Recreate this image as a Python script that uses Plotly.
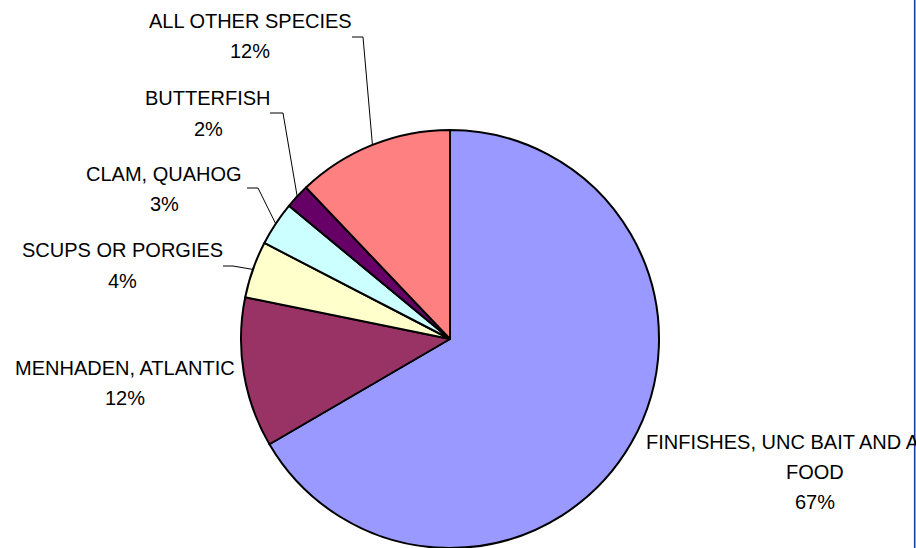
import math
import plotly.graph_objects as go

# ---- data ----
species = ["FINFISHES, UNC BAIT AND ANIMAL FOOD", "MENHADEN, ATLANTIC", "SCUPS OR PORGIES",
           "CLAM, QUAHOG", "BUTTERFISH", "ALL OTHER SPECIES"]
shares = [66.6, 11.6, 4.4, 3.4, 1.9, 12.1]
colors = ["#9999FF", "#993366", "#FFFFCC", "#CCFFFF", "#660066", "#FF8080"]

W, H = 916, 548
FONT = "Liberation Sans, Arial, sans-serif"
FS = 20

# pie geometry (pixels)
CX, CY, R = 450, 339, 209

fig = go.Figure(go.Pie(
    labels=species, values=shares, sort=False, direction="clockwise", rotation=0,
    marker=dict(colors=colors, line=dict(color="black", width=2)),
    textinfo="none", showlegend=False, hoverinfo="label+percent",
    domain=dict(x=[(CX - R) / W, (CX + R) / W], y=[(H - CY - R) / H, (H - CY + R) / H]),
))

total = sum(shares)
pcts = [f"{round(v / total * 100)}%" for v in shares]

def px(x, y):
    return x / W, 1 - y / H

# label layout: (name center x, name y, pct y, elbow x, elbow y, end x) in pixels
layout_pos = {
    "ALL OTHER SPECIES": (250, 21.5, 51.5, 363, 37, 352),
    "BUTTERFISH": (208, 97.5, 128.5, 283, 113, 270),
    "CLAM, QUAHOG": (164, 174, 204.5, 258, 188, 247),
    "SCUPS OR PORGIES": (122, 250, 280.5, 233, 266, 223),
    "MENHADEN, ATLANTIC": (125, 367.5, 397.5, None, None, None),
}

annotations = []
shapes = []
cum = 0.0
for name, v, pct in zip(species, shares, pcts):
    mid = (cum + v / 2) / total * 2 * math.pi
    cum += v
    ex = CX + R * math.sin(mid)
    ey = CY - R * math.cos(mid)
    if name in layout_pos:
        nx, ny, py, elx, ely, endx = layout_pos[name]
        for txt, yy in ((name, ny), (pct, py)):
            x0, y0 = px(nx, yy)
            annotations.append(dict(x=x0, y=y0, xref="paper", yref="paper", text=txt,
                                    showarrow=False, xanchor="center", yanchor="middle",
                                    font=dict(family=FONT, size=FS, color="black")))
        if elx is not None:
            pts = [(endx, ely), (elx, ely), (ex, ey)]
            path = "M " + " L ".join(f"{p[0] / W} {1 - p[1] / H}" for p in pts)
            shapes.append(dict(type="path", path=path, xref="paper", yref="paper",
                               line=dict(color="black", width=1)))
    else:
        # main slice label, first line clipped by the plot border (as in the reference)
        words = name.split(" ")
        line1 = " ".join(words[:-1])
        line2 = words[-1]
        x0, y0 = px(644, 441.5)
        annotations.append(dict(x=x0, y=y0, xref="paper", yref="paper", text=line1,
                                showarrow=False, xanchor="left", yanchor="middle",
                                width=270, align="left",
                                font=dict(family=FONT, size=FS, color="black")))
        for txt, yy in ((line2, 471.5), (pct, 501.5)):
            x1, y1 = px(815, yy)
            annotations.append(dict(x=x1, y=y1, xref="paper", yref="paper", text=txt,
                                    showarrow=False, xanchor="center", yanchor="middle",
                                    font=dict(family=FONT, size=FS, color="black")))

# right border line of the chart area
shapes.append(dict(type="line", xref="paper", yref="paper", x0=914.7 / W, x1=914.7 / W,
                   y0=0, y1=1, line=dict(color="#1F3FA0", width=1.6)))

fig.update_layout(
    width=W, height=H, margin=dict(l=0, r=0, t=0, b=0),
    paper_bgcolor="white", plot_bgcolor="white",
    annotations=annotations, shapes=shapes,
)

fig.write_html("out.html")
